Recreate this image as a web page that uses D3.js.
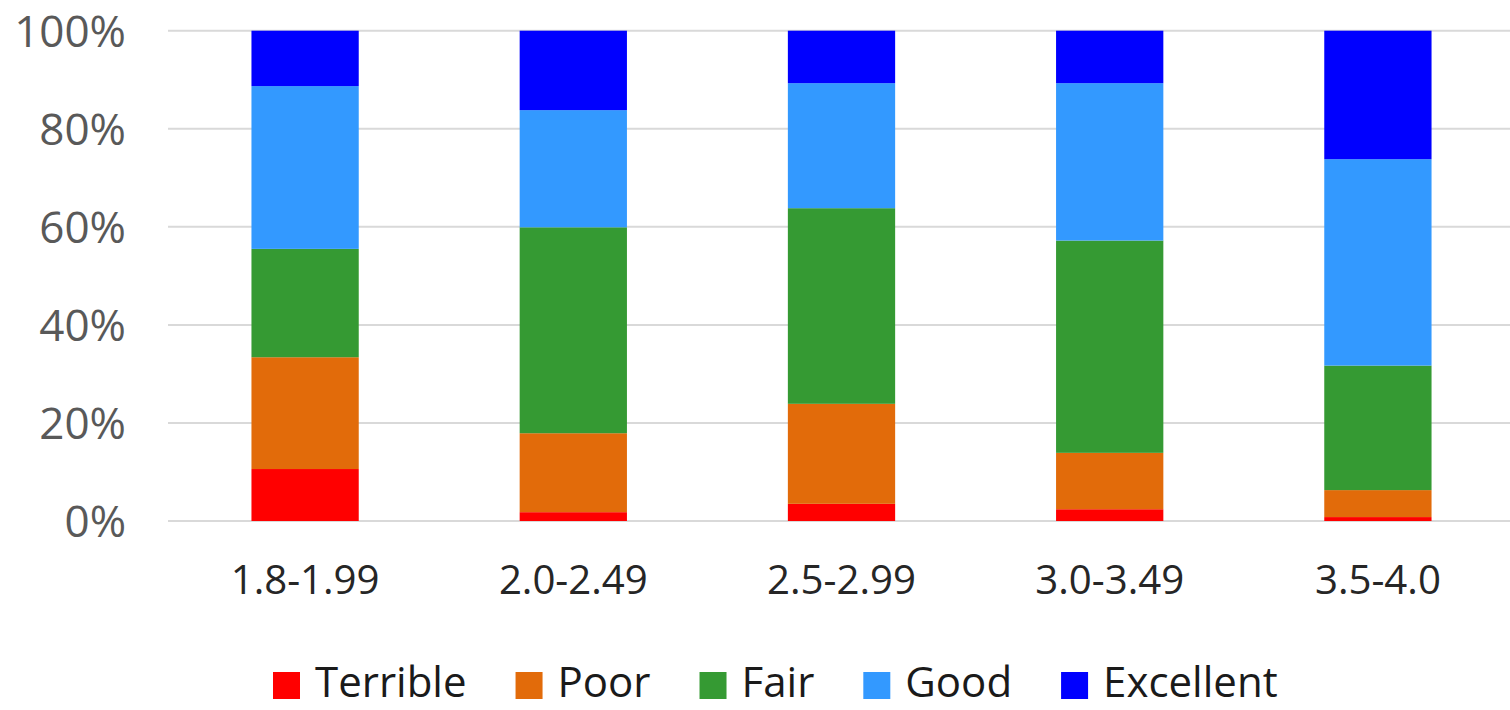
<!DOCTYPE html>
<html>
<head>
<meta charset="utf-8">
<script src="https://cdn.jsdelivr.net/npm/d3@7"></script>
<style>
  html, body { margin: 0; padding: 0; background: #fff; }
  svg { display: block; font-family: "Open Sans", sans-serif; }
</style>
</head>
<body>
<svg id="chart" width="1510" height="710"></svg>
<script>
// GPA ranges on the x axis
const categories = ["1.8-1.99", "2.0-2.49", "2.5-2.99", "3.0-3.49", "3.5-4.0"];
// Rating series, bottom to top of each stack
const seriesNames = ["Terrible", "Poor", "Fair", "Good", "Excellent"];
const seriesColors = ["#FF0000", "#E26B0A", "#359A33", "#3399FF", "#0000FF"];
// Share of responses (%) per range for each rating
const terrible  = [10.6, 1.8, 3.5, 2.4, 0.8];
const poor      = [22.8, 16.1, 20.4, 11.5, 5.5];
const fair      = [22.1, 42.0, 39.9, 43.3, 25.4];
const good      = [33.2, 23.9, 25.5, 32.1, 42.1];
const excellent = [11.3, 16.2, 10.7, 10.7, 26.2];
const yTicks = [0, 0.2, 0.4, 0.6, 0.8, 1.0];

const seriesValues = [terrible, poor, fair, good, excellent];

// Build rows and normalize each range to 100%
const rows = categories.map((c, i) => {
  const row = { cat: c };
  let total = 0;
  seriesNames.forEach((s, k) => { total += seriesValues[k][i]; });
  seriesNames.forEach((s, k) => { row[s] = seriesValues[k][i] / total; });
  return row;
});

const svg = d3.select("#chart");
const plot = { left: 171, right: 1512, top: 30.7, bottom: 521 };

const x = d3.scaleBand()
  .domain(categories)
  .range([plot.left, plot.right])
  .paddingInner(0.6)
  .paddingOuter(0.3);

const y = d3.scaleLinear().domain([0, 1]).range([plot.bottom, plot.top]);

// Horizontal gridlines
svg.append("g")
  .selectAll("line")
  .data(yTicks)
  .join("line")
  .attr("x1", 168)
  .attr("x2", 1510)
  .attr("y1", d => y(d))
  .attr("y2", d => y(d))
  .attr("stroke", "#d9d9d9")
  .attr("stroke-width", 2);

// Y axis labels
const yAxis = d3.axisLeft(y)
  .tickValues(yTicks)
  .tickFormat(d3.format(".0%"))
  .tickSize(0)
  .tickPadding(0);

svg.append("g")
  .attr("transform", "translate(126,0)")
  .call(yAxis)
  .call(g => g.select(".domain").remove())
  .call(g => g.selectAll("text")
    .attr("font-family", "'Open Sans', sans-serif")
    .attr("font-size", 44)
    .attr("fill", "#595959")
    .attr("dy", 15.5));

// Stacked bars
const stack = d3.stack().keys(seriesNames);
const stacked = stack(rows);

svg.append("g")
  .selectAll("g")
  .data(stacked)
  .join("g")
  .attr("fill", (d, i) => seriesColors[i])
  .selectAll("rect")
  .data(d => d)
  .join("rect")
  .attr("x", d => x(d.data.cat))
  .attr("width", x.bandwidth())
  .attr("y", d => y(d[1]))
  .attr("height", d => y(d[0]) - y(d[1]));

// X axis labels (slightly condensed)
const xAxis = d3.axisBottom(x).tickSize(0).tickPadding(0);
svg.append("g")
  .attr("transform", `translate(0,${plot.bottom})`)
  .call(xAxis)
  .call(g => g.select(".domain").remove())
  .call(g => g.selectAll("text")
    .attr("font-family", "'Open Sans', sans-serif")
    .attr("font-size", 41)
    .attr("fill", "#262626")
    .attr("y", 0)
    .attr("dy", 73)
    .attr("transform", "scale(0.98,1)"));

// Legend
const legend = svg.append("g").attr("class", "legend");
let lx = 273;
seriesNames.forEach((name, i) => {
  const item = legend.append("g").attr("transform", `translate(${lx},0)`);
  item.append("rect")
    .attr("x", 0).attr("y", 672)
    .attr("width", 27).attr("height", 27)
    .attr("fill", seriesColors[i]);
  const t = item.append("text")
    .attr("x", 42).attr("y", 697)
    .attr("font-family", "'Open Sans', sans-serif")
    .attr("font-size", 42)
    .attr("fill", "#1a1a1a")
    .text(name);
  const w = t.node().getComputedTextLength();
  lx += 42 + w + 49;
});
</script>
</body>
</html>
